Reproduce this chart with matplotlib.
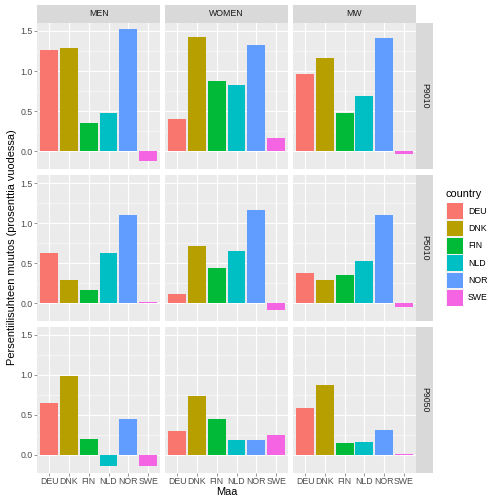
import matplotlib
matplotlib.use("Agg")
import matplotlib.pyplot as plt
import numpy as np
from matplotlib.patches import Rectangle

plt.rcParams["font.family"] = ["Liberation Sans", "DejaVu Sans"]

countries = ["DEU", "DNK", "FIN", "NLD", "NOR", "SWE"]
colors = ["#F8766D", "#B79F00", "#00BA38", "#00BFC4", "#619CFF", "#F564E3"]
groups = ["MEN", "WOMEN", "MW"]
measures = ["P9010", "P5010", "P9050"]

p9010_men = [1.26, 1.29, 0.35, 0.48, 1.52, -0.12]
p9010_women = [0.40, 1.42, 0.88, 0.83, 1.33, 0.17]
p9010_mw = [0.96, 1.16, 0.48, 0.69, 1.41, -0.04]
p5010_men = [0.63, 0.29, 0.17, 0.63, 1.10, 0.01]
p5010_women = [0.11, 0.71, 0.44, 0.65, 1.16, -0.08]
p5010_mw = [0.38, 0.29, 0.35, 0.53, 1.10, -0.05]
p9050_men = [0.64, 0.99, 0.19, -0.14, 0.44, -0.14]
p9050_women = [0.29, 0.73, 0.45, 0.18, 0.18, 0.24]
p9050_mw = [0.58, 0.87, 0.14, 0.16, 0.31, 0.01]

data = {
    "P9010": [p9010_men, p9010_women, p9010_mw],
    "P5010": [p5010_men, p5010_women, p5010_mw],
    "P9050": [p9050_men, p9050_women, p9050_mw],
}

W = H = 504
fig = plt.figure(figsize=(7, 7), dpi=72)

def fx(px):
    return px / W

def fy(py):
    return 1 - py / H

col_x = [(37.3, 160.0), (165.3, 288.0), (293.3, 415.7)]
row_y = [(22.7, 169.0), (175.0, 321.0), (326.5, 472.5)]

allv = np.concatenate([np.array(v) for m in measures for v in data[m]])
lo, hi = min(allv.min(), 0), allv.max()
pad = (hi - lo) * 0.05
ylim = (lo - pad, hi + pad)

bg = "#EBEBEB"
strip_bg = "#D9D9D9"

for r, m in enumerate(measures):
    for c, g in enumerate(groups):
        x0, x1 = col_x[c]
        y0, y1 = row_y[r]
        ax = fig.add_axes([fx(x0), fy(y1), fx(x1 - x0), (y1 - y0) / H])
        ax.set_facecolor(bg)
        vals = data[m][c]
        xs = np.arange(1, 7)
        ax.bar(xs, vals, width=0.9, color=colors, zorder=3)
        ax.set_xlim(0.4, 6.6)
        ax.set_ylim(*ylim)
        ax.set_yticks([0, 0.5, 1.0, 1.5])
        ax.set_yticks([0.25, 0.75, 1.25], minor=True)
        ax.set_xticks(xs)
        ax.grid(True, which="major", color="white", linewidth=1.1, zorder=0)
        ax.grid(True, which="minor", axis="y", color="white", linewidth=0.55, zorder=0)
        for s in ax.spines.values():
            s.set_visible(False)
        ax.tick_params(which="minor", length=0)
        ax.tick_params(which="major", length=2.75, width=0.5, color="#333333",
                       labelsize=8.8, labelcolor="#4D4D4D", pad=2)
        if c == 0:
            ax.set_yticklabels(["0.0", "0.5", "1.0", "1.5"])
        else:
            ax.tick_params(axis="y", length=0, labelleft=False)
        if r == 2:
            ax.set_xticklabels(countries)
        else:
            ax.tick_params(axis="x", length=0, labelbottom=False)
        ax.set_axisbelow(True)
        # top strip
        if r == 0:
            sax = fig.add_axes([fx(x0), fy(y0), fx(x1 - x0), (y0 - 5.0) / H])
            sax.set_facecolor(strip_bg)
            sax.set_xticks([]); sax.set_yticks([])
            for s in sax.spines.values():
                s.set_visible(False)
            sax.text(0.5, 0.5, g, ha="center", va="center", fontsize=8.8,
                     color="#1A1A1A", transform=sax.transAxes)
        # right strip
        if c == 2:
            rax = fig.add_axes([fx(416.0), fy(y1), fx(433.0 - 416.0), (y1 - y0) / H])
            rax.set_facecolor(strip_bg)
            rax.set_xticks([]); rax.set_yticks([])
            for s in rax.spines.values():
                s.set_visible(False)
            rax.text(0.5, 0.5, m, ha="center", va="center", fontsize=8.8,
                     color="#1A1A1A", rotation=-90, transform=rax.transAxes)

# axis titles
fig.text(fx(226.5), fy(492), "Maa", ha="center", va="center", fontsize=11, color="black")
fig.text(fx(12), fy((22.7 + 472.5) / 2), "Persentiilisuhteen muutos (prosenttia vuodessa)",
         ha="center", va="center", rotation=90, fontsize=11, color="black")

# legend
fig.text(fx(446), fy(194), "country", ha="left", va="center", fontsize=11, color="black")
key_top = 202.5
key_h = 17.3
for i, (cn, col) in enumerate(zip(countries, colors)):
    yt = key_top + i * key_h
    fig.patches.append(Rectangle((fx(446), fy(yt + key_h)), fx(17.3), key_h / H,
                                 transform=fig.transFigure, facecolor="#F2F2F2",
                                 edgecolor="none"))
    fig.patches.append(Rectangle((fx(447), fy(yt + key_h - 0.8)), fx(15.5), (key_h - 1.6) / H,
                                 transform=fig.transFigure, facecolor=col,
                                 edgecolor="none"))
    fig.text(fx(468), fy(yt + key_h / 2), cn, ha="left", va="center", fontsize=8.8,
             color="black")

fig.savefig("out.png", dpi=72)
